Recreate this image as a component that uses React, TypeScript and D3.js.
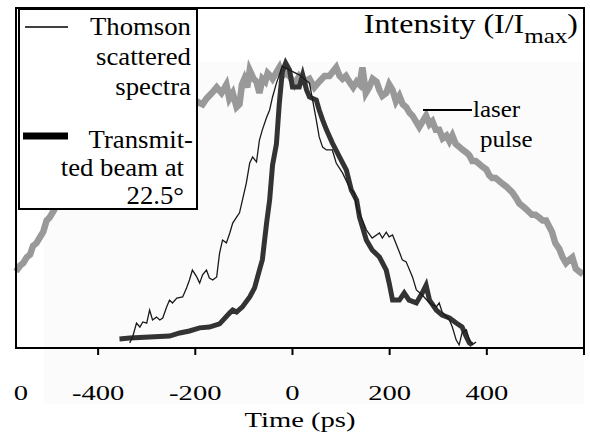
import React from "react";
import * as d3 from "d3";

// ---- data (time in ps, intensity I/Imax) ----
const laserPulse: [number, number][] = [
  [-569, 0.27], [-561, 0.29], [-554, 0.3], [-547, 0.32], [-540, 0.33], [-534, 0.36], [-527, 0.37], [-520, 0.39],
  [-513, 0.41], [-506, 0.45], [-500, 0.46], [-493, 0.48], [-483, 0.51], [-438, 0.59], [-376, 0.7],
  [-314, 0.77], [-253, 0.82], [-197, 0.87], [-185, 0.86], [-177, 0.88], [-166, 0.9], [-156, 0.92],
  [-146, 0.9], [-136, 0.93], [-130, 0.88], [-123, 0.9], [-115, 0.85], [-109, 0.86], [-104, 0.93],
  [-99, 0.95], [-93, 0.92], [-88, 0.98], [-80, 0.95], [-74, 0.94], [-68, 0.9], [-62, 0.95], [-56, 0.94],
  [-51, 0.97], [-45, 0.96], [-41, 0.95], [-34, 0.97], [-27, 0.99], [-21, 0.96], [-16, 0.97], [-6, 0.96],
  [4, 0.93], [14, 0.96], [24, 0.94], [35, 0.95], [45, 0.92], [55, 0.94], [66, 0.96], [76, 0.96],
  [90, 0.99], [97, 0.96], [103, 0.95], [110, 0.96], [117, 0.94], [125, 0.92], [132, 0.94], [138, 0.93],
  [144, 0.99], [151, 0.9], [158, 0.92], [165, 0.95], [173, 0.94], [179, 0.91], [185, 0.89], [193, 0.9],
  [199, 0.93], [206, 0.91], [213, 0.87], [220, 0.89], [227, 0.86], [234, 0.85], [241, 0.83], [247, 0.82],
  [254, 0.8], [261, 0.78], [268, 0.8], [275, 0.82], [282, 0.79], [288, 0.8], [295, 0.77], [302, 0.77],
  [309, 0.74], [317, 0.75], [323, 0.73], [329, 0.75], [336, 0.72], [343, 0.71], [350, 0.7], [358, 0.69],
  [364, 0.68], [370, 0.66], [377, 0.66], [384, 0.65], [391, 0.64], [399, 0.63], [405, 0.61], [411, 0.6],
  [418, 0.6], [425, 0.59], [432, 0.58], [440, 0.57], [446, 0.56], [452, 0.55], [460, 0.53], [467, 0.51],
  [474, 0.5], [481, 0.49], [487, 0.48], [493, 0.47], [500, 0.47], [508, 0.46], [515, 0.45], [522, 0.45],
  [528, 0.43], [534, 0.41], [541, 0.37], [549, 0.35], [556, 0.32], [563, 0.3], [569, 0.31], [576, 0.32],
  [583, 0.28], [590, 0.27], [598, 0.26],
];

const thomsonSpectra: [number, number][] = [
  [-335, 0.018], [-329, 0.039], [-321, 0.088], [-314, 0.074], [-308, 0.092], [-300, 0.088], [-294, 0.134],
  [-288, 0.099], [-280, 0.109], [-273, 0.099], [-267, 0.106], [-259, 0.145], [-253, 0.169], [-247, 0.159],
  [-238, 0.176], [-226, 0.18], [-218, 0.212], [-212, 0.24], [-206, 0.275], [-197, 0.251], [-191, 0.229],
  [-185, 0.258], [-177, 0.275], [-171, 0.247], [-164, 0.24], [-156, 0.251], [-150, 0.335], [-144, 0.381],
  [-136, 0.371], [-129, 0.406], [-123, 0.441], [-115, 0.462], [-109, 0.477], [-103, 0.522], [-95, 0.582],
  [-88, 0.653], [-82, 0.674], [-74, 0.657], [-68, 0.734], [-62, 0.77], [-53, 0.815], [-47, 0.84],
  [-41, 0.886], [-33, 0.935], [-27, 0.964], [-21, 0.995], [-6, 0.981], [14, 0.964], [35, 0.935],
  [49, 0.805], [55, 0.745], [62, 0.709], [70, 0.699], [82, 0.699], [90, 0.653], [103, 0.618],
  [117, 0.568], [127, 0.547], [132, 0.498], [144, 0.452], [152, 0.417], [164, 0.388], [179, 0.406],
  [185, 0.388], [193, 0.409], [199, 0.392], [206, 0.399], [220, 0.339], [226, 0.311], [234, 0.304],
  [247, 0.251], [255, 0.205], [267, 0.187], [282, 0.159], [296, 0.145], [302, 0.159], [308, 0.127],
  [323, 0.099], [329, 0.074], [337, 0.028], [343, 0.011], [349, 0.053], [358, 0.064], [364, 0.028],
  [370, 0.011], [378, 0.021],
];

const transmittedBeam: [number, number][] = [
  [-356, 0.032], [-335, 0.035], [-294, 0.039], [-253, 0.042], [-232, 0.053], [-212, 0.06], [-191, 0.071],
  [-171, 0.074], [-150, 0.085], [-129, 0.124], [-123, 0.134], [-115, 0.127], [-103, 0.145], [-88, 0.18],
  [-78, 0.212], [-68, 0.275], [-62, 0.311], [-58, 0.371], [-53, 0.445], [-47, 0.522], [-41, 0.646],
  [-33, 0.72], [-27, 0.865], [-21, 0.974], [-14, 1.006], [-6, 0.981], [0, 0.921], [14, 0.921],
  [21, 0.964], [29, 0.911], [35, 0.886], [49, 0.875], [55, 0.84], [62, 0.805], [70, 0.77], [82, 0.724],
  [97, 0.674], [111, 0.628], [121, 0.558], [132, 0.522], [138, 0.462], [152, 0.381], [164, 0.346],
  [179, 0.321], [193, 0.275], [199, 0.229], [206, 0.169], [220, 0.169], [230, 0.194], [240, 0.169],
  [255, 0.159], [267, 0.194], [275, 0.222], [282, 0.169], [296, 0.134], [308, 0.116], [323, 0.106],
  [337, 0.088], [349, 0.074], [358, 0.039], [364, 0.018], [370, 0.011],
];

const tickValues = [-400, -200, 0, 200, 400, 600];
const tickLabels = ["-400", "-200", "0", "200", "400"];
const legendThomson = ["Thomson", "scattered", "spectra"];
const legendTrans = ["Transmit-", "ted beam at", "22.5°"];

const FONT = "'Liberation Serif', 'Times New Roman', Times, serif";

const SText = ({ x, y, sx, size, anchor, children, fill = "#000" }: any) => (
  <text
    transform={`translate(${x},${y}) scale(${sx},1)`}
    fontSize={size}
    textAnchor={anchor}
    fontFamily={FONT}
    fill={fill}
  >
    {children}
  </text>
);

export default function App() {
  const W = 590, H = 436;
  const x = d3.scaleLinear().domain([-569, 600]).range([16, 584]);
  const y = d3.scaleLinear().domain([0, 1.2]).range([348, 8]);
  const line = d3
    .line<[number, number]>()
    .x((d) => x(d[0]))
    .y((d) => y(d[1]));

  return (
    <svg
      width={W}
      height={H}
      style={{ position: "absolute", left: 0, top: 0, background: "#fff" }}
    >
      <rect x={0} y={0} width={W} height={H} fill="#fff" />
      <rect x={44} y={62} width={540} height={342} fill="#fbfbfb" />

      {/* series */}
      <path d={line(laserPulse)!} fill="none" stroke="#999" strokeWidth={6.5} strokeLinejoin="miter" />
      <path d={line(transmittedBeam)!} fill="none" stroke="#333" strokeWidth={5} strokeLinejoin="miter" />
      <path d={line(thomsonSpectra)!} fill="none" stroke="#1a1a1a" strokeWidth={1.3} />

      {/* frame */}
      <path d={`M${x(-569)},${y(1.2)}V${y(0)}H${x(600)}V${y(1.2)}Z`} fill="none" stroke="#000" strokeWidth={2} />
      {tickValues.map((t) => (
        <line key={t} x1={x(t)} x2={x(t)} y1={y(0)} y2={y(0) + 7} stroke="#000" strokeWidth={2} />
      ))}
      {tickLabels.map((l, i) => (
        <SText key={i} x={x(tickValues[i])} y={400} sx={1.3} size={22} anchor="middle">
          {l}
        </SText>
      ))}
      <SText x={21} y={400} sx={1.3} size={22} anchor="middle">0</SText>
      <SText x={300} y={427} sx={1.3} size={22} anchor="middle">Time (ps)</SText>

      {/* title */}
      <text
        transform={`translate(578,33) scale(1.14,1)`}
        fontSize={28}
        textAnchor="end"
        fontFamily={FONT}
        fill="#000"
      >
        Intensity (I/I
        <tspan dy={10} fontSize={22}>max</tspan>
        <tspan dy={-10}>)</tspan>
      </text>

      {/* laser annotation */}
      <line x1={423} x2={472} y1={110} y2={110} stroke="#000" strokeWidth={2} />
      <SText x={473} y={117} sx={1.04} size={24} anchor="start">laser</SText>
      <SText x={480} y={147} sx={1.04} size={24} anchor="start">pulse</SText>

      {/* legend */}
      <rect x={19} y={9} width={178} height={200} fill="#fff" stroke="#000" strokeWidth={2} />
      <line x1={25} x2={68} y1={27} y2={27} stroke="#000" strokeWidth={1.5} />
      <line x1={23} x2={68} y1={136} y2={136} stroke="#000" strokeWidth={7} />
      {legendThomson.map((s, i) => (
        <SText key={s} x={191} y={35 + i * 30} sx={1.07} size={25} anchor="end">{s}</SText>
      ))}
      {legendTrans.map((s, i) => (
        <SText key={s} x={i === 0 ? 193 : 184} y={148 + i * 28} sx={1.07} size={25} anchor="end">{s}</SText>
      ))}
    </svg>
  );
}
